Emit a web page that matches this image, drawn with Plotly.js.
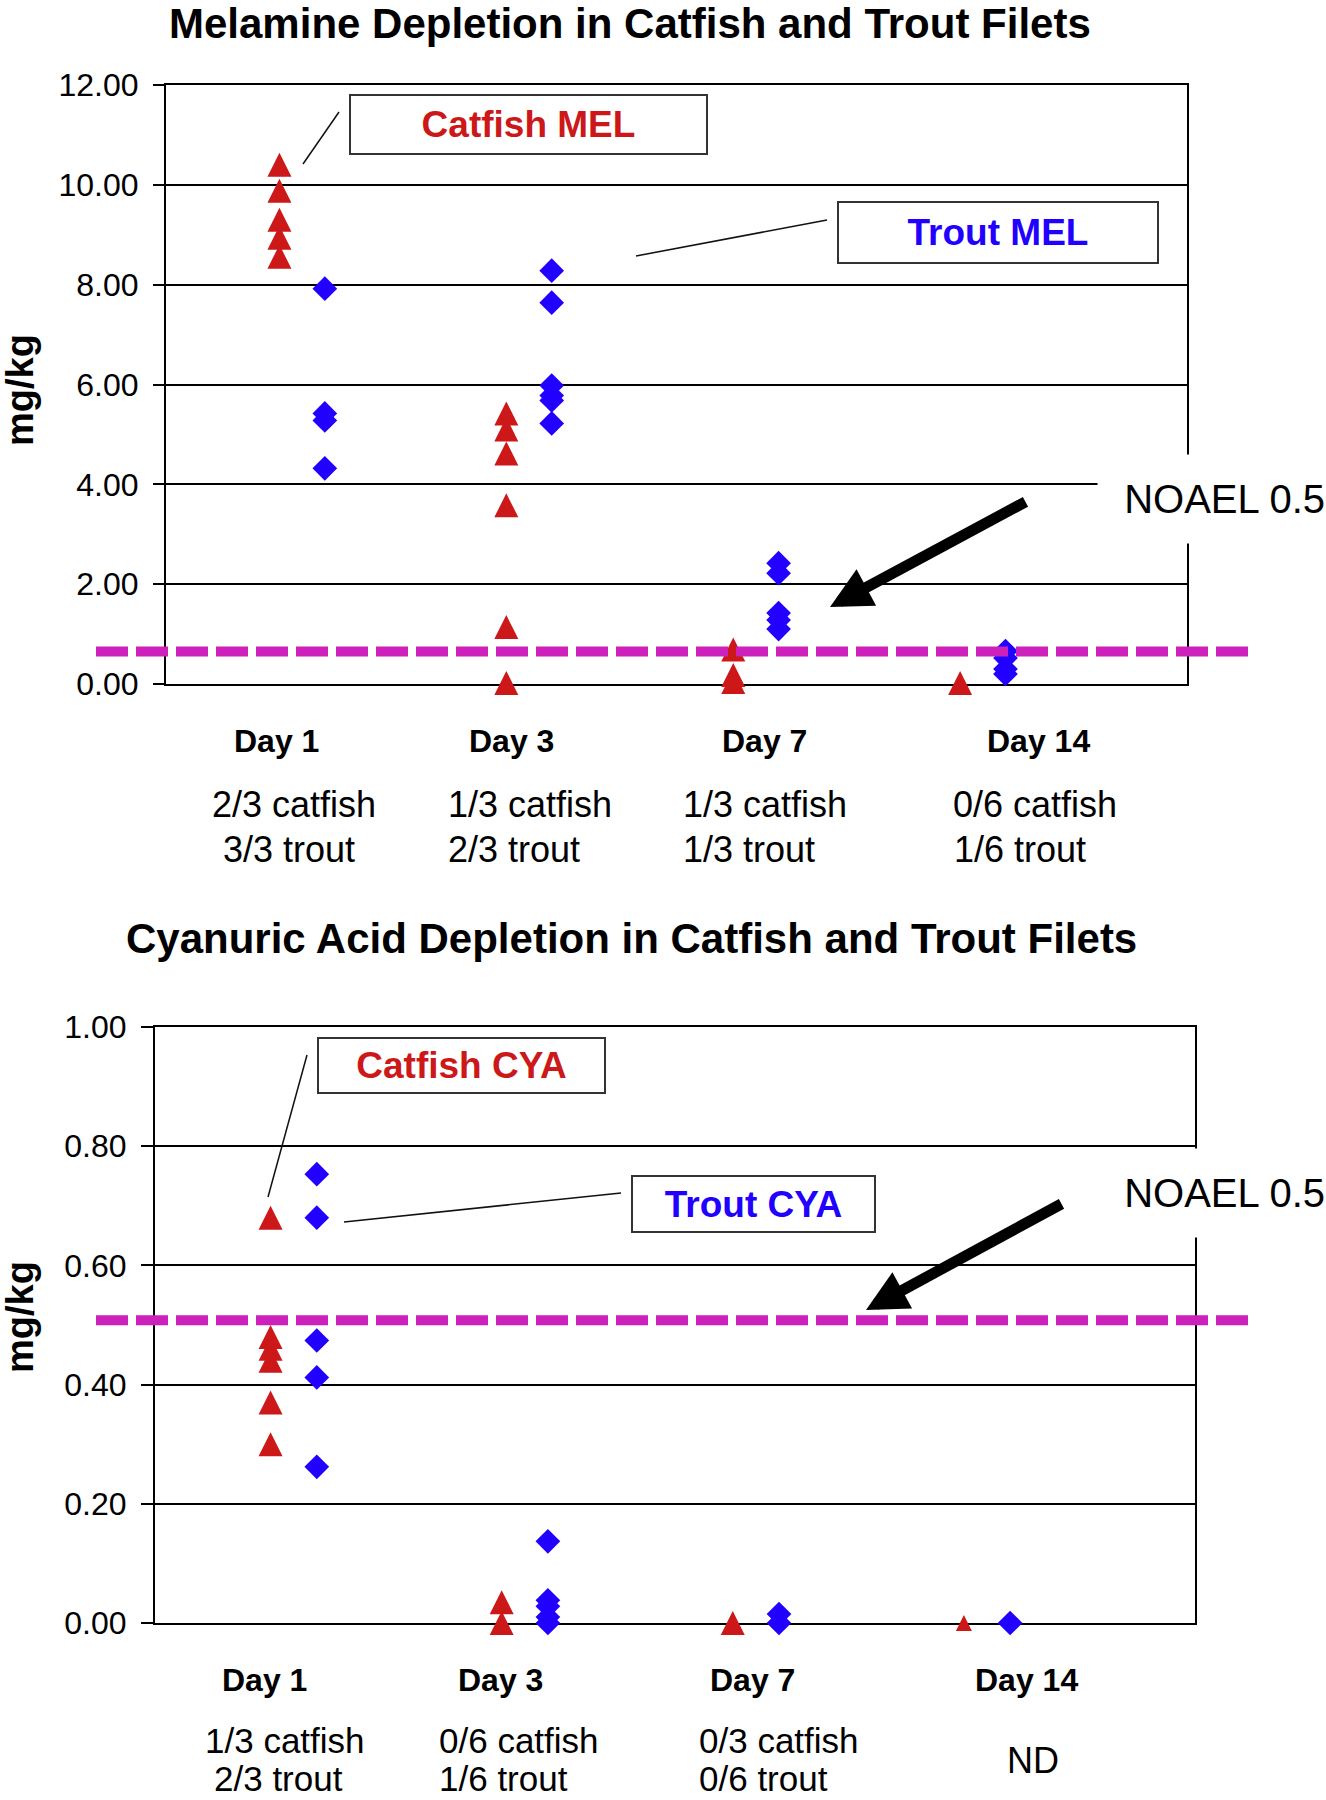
<!DOCTYPE html>
<html>
<head>
<meta charset="utf-8">
<script src="https://cdn.plot.ly/plotly-3.0.1.min.js"></script>
<style>
  body { margin: 0; background: #fff; }
</style>
</head>
<body>
<div id="chartDiv" style="width:1326px;height:1800px"></div>
<script>
// ---- data (mg/kg), one list per sampling day ----
const days = ["Day 1", "Day 3", "Day 7", "Day 14"];

const melCatfish = [[10.4, 9.88, 9.3, 8.94, 8.56], [5.42, 5.1, 4.62, 3.58, 1.14, 0.02], [0.69, 0.18, 0.04], [0.02]];
const melTrout = [[7.92, 5.42, 5.28, 4.32], [8.28, 7.64, 5.98, 5.78, 5.68, 5.22], [2.42, 2.22, 1.42, 1.28, 1.1], [0.66, 0.52, 0.3, 0.2]];

const cyaCatfish = [[0.68, 0.48, 0.46, 0.44, 0.37, 0.3], [0.035, 0], [0], [0]];
const cyaTrout = [[0.753, 0.68, 0.474, 0.412, 0.262], [0.137, 0.038, 0.028, 0.01, 0], [0.015, 0], [0]];

const melNotes = [["2/3 catfish", "3/3 trout"], ["1/3 catfish", "2/3 trout"], ["1/3 catfish", "1/3 trout"], ["0/6 catfish", "1/6 trout"]];
const cyaNotes = [["1/3 catfish", "2/3 trout"], ["0/6 catfish", "1/6 trout"], ["0/3 catfish", "0/6 trout"], ["ND"]];

const melTicks = [0, 2, 4, 6, 8, 10, 12];
const cyaTicks = [0, 0.2, 0.4, 0.6, 0.8, 1.0];

// level where the dashed NOAEL line sits on each chart
const noaelMel = 0.65;
const noaelCya = 0.508;

// ---- helpers ----
const W = 1326, H = 1800;
const px = v => v / W;
const py = v => 1 - v / H;

const RED = "#CC1818";
const BLUE = "#2200FF";
const MAGENTA = "#CC22BB";
const FONT = "Liberation Sans, Arial, sans-serif";

function points(groups, side, xa, ya, marker) {
  const x = [], y = [];
  groups.forEach((vals, i) => vals.forEach(v => { x.push(i + side); y.push(v); }));
  return {
    x: x, y: y, xaxis: xa, yaxis: ya,
    type: "scatter", mode: "markers", cliponaxis: false, hoverinfo: "skip",
    marker: typeof marker === "function" ? marker(groups) : marker
  };
}

// upward triangle centred on the point
function triangle(groups, smallDay) {
  const size = [], standoff = [];
  groups.forEach((vals, i) => vals.forEach(() => {
    const s = i === smallDay ? 16 : 24;
    size.push(s); standoff.push(s / 2);
  }));
  return { symbol: "arrow-down", angle: 180, size: size, standoff: standoff, opacity: 1, color: RED, line: { width: 0 } };
}
const diamond = { symbol: "diamond", size: 19, opacity: 1, color: BLUE, line: { width: 0 } };

const traces = [
  points(melCatfish, -0.1, "x", "y", g => triangle(g, -1)),
  points(melTrout, 0.1, "x", "y", diamond),
  points(cyaCatfish, -0.1, "x2", "y2", g => triangle(g, 3)),
  points(cyaTrout, 0.1, "x2", "y2", diamond)
];

const xCommon = {
  range: [-0.6, 3.9], showticklabels: false, ticks: "", showgrid: false, zeroline: false,
  showline: true, mirror: true, linecolor: "#000", linewidth: 2, layer: "below traces", fixedrange: true
};
const yCommon = {
  ticks: "outside", tickwidth: 2, tickcolor: "#000", tickformat: ".2f",
  showline: true, mirror: true, linecolor: "#000", linewidth: 2,
  showgrid: true, gridcolor: "#000", gridwidth: 2, zeroline: false,
  tickfont: { family: FONT, size: 32, color: "#000" }, ticklabelstandoff: 8,
  layer: "below traces", fixedrange: true
};

function text(t, x, y, size, extra) {
  return Object.assign({
    xref: "paper", yref: "paper", x: px(x), y: py(y), text: t, showarrow: false,
    xanchor: "center", yanchor: "middle",
    font: { family: FONT, size: size, color: "#000" }
  }, extra || {});
}
function callout(t, color, x0, y0, x1, y1) {
  return text("<b>" + t + "</b>", (x0 + x1) / 2, (y0 + y1) / 2, 37, {
    font: { family: FONT, size: 37, color: color },
    width: x1 - x0 - 2, height: y1 - y0 - 2, borderpad: 0,
    bordercolor: "#333", borderwidth: 2, bgcolor: "#fff"
  });
}
function noael(yc) {
  return text("NOAEL 0.5", 1097, yc, 40, {
    xanchor: "left", width: 227, height: 88, align: "right", borderpad: 0, bgcolor: "#fff"
  });
}
function arrow(tipX, tipY, tailX, tailY) {
  return {
    xref: "paper", yref: "paper", x: px(tipX), y: py(tipY), ax: tailX - tipX, ay: tailY - tipY,
    text: "", showarrow: true, arrowhead: 2, arrowsize: 0.75, arrowwidth: 11, arrowcolor: "#000"
  };
}
function leader(x0, y0, x1, y1) {
  return { type: "line", xref: "paper", yref: "paper", x0: px(x0), y0: py(y0), x1: px(x1), y1: py(y1),
           line: { color: "#111", width: 1.5 } };
}
function dashed(level, yref) {
  return { type: "line", xref: "paper", yref: yref, x0: px(96), x1: px(1254), y0: level, y1: level,
           line: { color: MAGENTA, width: 10, dash: "32px,8px" } };
}

const annotations = [
  text("<b>Melamine Depletion in Catfish and Trout Filets</b>", 630, 23, 42),
  text("<b>Cyanuric Acid Depletion in Catfish and Trout Filets</b>", 631, 938, 42),
  text("<b>mg/kg</b>", 20, 390, 38, { textangle: -90 }),
  text("<b>mg/kg</b>", 20, 1317, 38, { textangle: -90 }),
  callout("Catfish MEL", RED, 350, 95, 707, 154),
  callout("Trout MEL", BLUE, 838, 202, 1158, 263),
  callout("Catfish CYA", RED, 318, 1038, 605, 1093),
  callout("Trout CYA", BLUE, 632, 1176, 875, 1232),
  noael(499),
  noael(1193),
  arrow(830, 607, 1027, 501),
  arrow(866, 1310, 1063, 1203)
];

// day labels and detection notes under each chart
const melDayX = [276, 511, 765, 1038];
const cyaDayX = [264, 500, 752, 1026];
const melNoteX = [[210, 221], [446, 446], [681, 681], [951, 952]];
const cyaNoteX = [[203, 212], [437, 437], [697, 697]];
days.forEach((d, i) => {
  annotations.push(text("<b>" + d + "</b>", melDayX[i], 741, 32));
  annotations.push(text("<b>" + d + "</b>", cyaDayX[i], 1680, 32));
  melNotes[i].forEach((n, j) => annotations.push(text(n, melNoteX[i][j], 805 + j * 44, 36, { xanchor: "left" })));
  if (cyaNotes[i].length === 1) {
    annotations.push(text(cyaNotes[i][0], 1033, 1760, 36));
  } else {
    cyaNotes[i].forEach((n, j) => annotations.push(text(n, cyaNoteX[i][j], 1740 + j * 38, 35, { xanchor: "left" })));
  }
});

const layout = {
  width: W, height: H,
  margin: { l: 0, r: 0, t: 0, b: 0 },
  paper_bgcolor: "#fff", plot_bgcolor: "#fff",
  showlegend: false, hovermode: false,
  font: { family: FONT, color: "#000" },
  xaxis: Object.assign({}, xCommon, { domain: [px(166), px(1187)], anchor: "y" }),
  yaxis: Object.assign({}, yCommon, { domain: [py(684), py(85)], anchor: "x", range: [0, 12], tickvals: melTicks, ticklen: 11 }),
  xaxis2: Object.assign({}, xCommon, { domain: [px(155), px(1195)], anchor: "y2" }),
  yaxis2: Object.assign({}, yCommon, { domain: [py(1623), py(1027)], anchor: "x2", range: [0, 1], tickvals: cyaTicks, ticklen: 12 }),
  shapes: [
    dashed(noaelMel, "y"),
    dashed(noaelCya, "y2"),
    leader(339, 112, 303, 164),
    leader(827, 220, 636, 256),
    leader(307, 1055, 268, 1197),
    leader(621, 1193, 344, 1222)
  ],
  annotations: annotations
};

Plotly.newPlot("chartDiv", traces, layout, { staticPlot: true });
</script>
</body>
</html>
